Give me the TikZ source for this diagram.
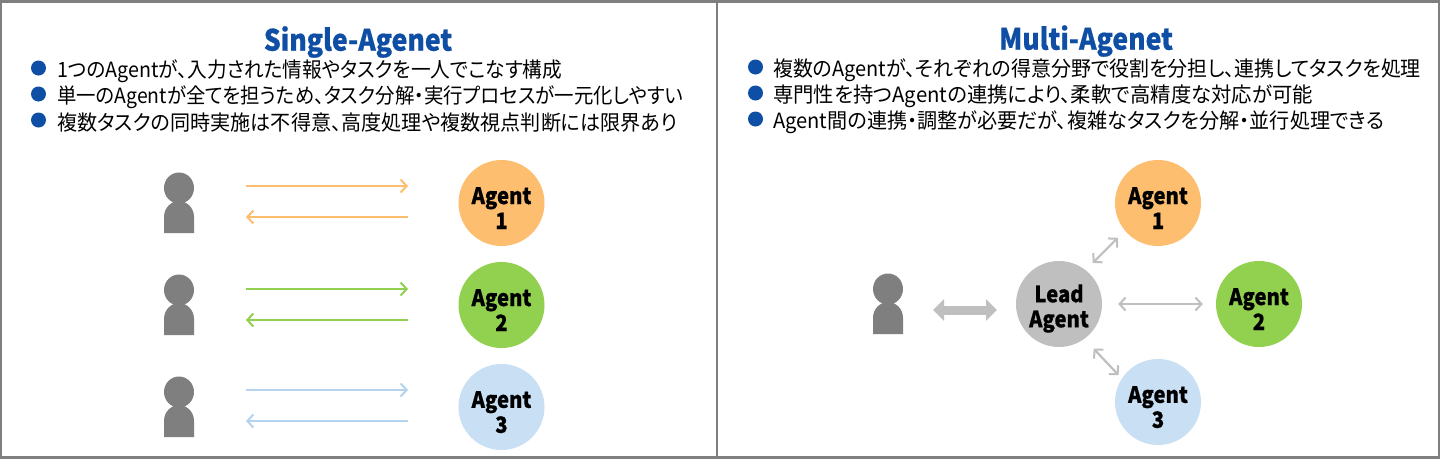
\documentclass[tikz,border=0pt]{standalone}
\usepackage{fontspec}
\setmainfont[RawFeature={+palt}]{Noto Sans CJK JP}
\newfontfamily\agfont[FakeStretch=0.9,FakeBold=0.6]{Noto Sans CJK JP Black}
\definecolor{frameg}{HTML}{7F7F7F}
\definecolor{titleb}{HTML}{0F4EA5}
\definecolor{orng}{HTML}{FDBE6F}
\definecolor{grn}{HTML}{92D04F}
\definecolor{lblue}{HTML}{C9DFF4}
\definecolor{lblueline}{HTML}{B5D3EF}
\definecolor{lead}{HTML}{BFBFBF}
\definecolor{persong}{HTML}{7F7F7F}
\usetikzlibrary{arrows.meta,shapes.geometric}
\tikzset{
  x=1pt,y=-1pt,
  paneltitle/.style={font=\fontsize{29.5}{30}\selectfont\agfont,text=titleb,inner sep=0pt},
  bulletdot/.style={circle,fill=titleb,minimum size=15pt,inner sep=0pt},
  bullettext/.style={anchor=west,font=\fontsize{21}{21}\selectfont,text=black,inner sep=0pt},
  agentnode/.style={circle,minimum size=86pt,inner sep=0pt,align=center,
    font=\fontsize{22.5}{25}\selectfont\agfont,text=black},
  personhead/.style={ellipse,fill=persong,minimum width=30pt,minimum height=31pt,inner sep=0pt},
  flow/.style={line width=2.2pt,-{Straight Barb[length=6pt,width=13pt,line width=2pt]}},
  link/.style={line width=2.2pt,draw=lead,{Straight Barb[length=6pt,width=13pt,line width=2pt]}-{Straight Barb[length=6pt,width=13pt,line width=2pt]}},
}
\newcommand{\personbody}[2]{%
  \fill[persong] (#1-15,#2+61) -- (#1-15,#2+45) .. controls (#1-15,#2+35) and (#1-7,#2+29) .. (#1,#2+29)
    .. controls (#1+7,#2+29) and (#1+15,#2+35) .. (#1+15,#2+45) -- (#1+15,#2+61) -- cycle;}
\newcommand{\agtwo}[2]{\rule{0pt}{27pt}\makebox[0pt]{#1}\\\makebox[0pt]{#2}}
\begin{document}
\begin{tikzpicture}
\useasboundingbox (0,0) rectangle (1440,459);
\fill[white] (0,0) rectangle (1440,459);
\draw[frameg,line width=2.5pt] (1,1.5) rectangle (1439,457.5);
\draw[frameg,line width=1.5pt] (717,1) -- (717,458);

% left panel
\node[paneltitle] (t1) at (358,42) {Single-Agenet};
\node[bulletdot] (b11) at (38.5,68) {};
\node[bulletdot] (b12) at (38.5,94) {};
\node[bulletdot] (b13) at (38.5,120) {};
\node[bullettext] (l11) at (57,71) {\scalebox{.937}[1]{1つのAgentが、入力された情報やタスクを一人でこなす構成}};
\node[bullettext] (l12) at (57,97) {\scalebox{.924}[1]{単一のAgentが全てを担うため、タスク分解・実行プロセスが一元化しやすい}};
\node[bullettext] (l13) at (57,123) {\scalebox{.957}[1]{複数タスクの同時実施は不得意、高度処理や複数視点判断には限界あり}};

\personbody{179}{172}
\node[personhead] (p1) at (179,188) {};
\personbody{179}{274}
\node[personhead] (p2) at (179,290) {};
\personbody{179}{376}
\node[personhead] (p3) at (179,392) {};

\node[agentnode,fill=orng] (a1) at (501.5,203) {\agtwo{Agent}{1}};
\node[agentnode,fill=grn] (a2) at (501.5,305) {\agtwo{Agent}{2}};
\node[agentnode,fill=lblue] (a3) at (501.5,407) {\agtwo{Agent}{3}};

\coordinate (p1a) at (246,186); \coordinate (a1a) at (408,186);
\coordinate (a1b) at (408,217); \coordinate (p1b) at (246,217);
\coordinate (p2a) at (246,289); \coordinate (a2a) at (408,289);
\coordinate (a2b) at (408,320); \coordinate (p2b) at (246,320);
\coordinate (p3a) at (246,390); \coordinate (a3a) at (408,390);
\coordinate (a3b) at (408,421); \coordinate (p3b) at (246,421);
\draw[flow,orng] (p1a) -- (a1a);
\draw[flow,orng] (a1b) -- (p1b);
\draw[flow,grn] (p2a) -- (a2a);
\draw[flow,grn] (a2b) -- (p2b);
\draw[flow,lblueline] (p3a) -- (a3a);
\draw[flow,lblueline] (a3b) -- (p3b);

% right panel
\node[paneltitle] (t2) at (1086,41) {Multi-Agenet};
\node[bulletdot] (b21) at (755.5,67) {};
\node[bulletdot] (b22) at (755.5,93) {};
\node[bulletdot] (b23) at (755.5,119) {};
\node[bullettext] (l21) at (773,70) {\scalebox{.951}[1]{複数のAgentが、それぞれの得意分野で役割を分担し、連携してタスクを処理}};
\node[bullettext] (l22) at (773,96) {\scalebox{.969}[1]{専門性を持つAgentの連携により、柔軟で高精度な対応が可能}};
\node[bullettext] (l23) at (773,122) {\scalebox{.958}[1]{Agent間の連携・調整が必要だが、複雑なタスクを分解・並行処理できる}};

\personbody{888}{273}
\node[personhead] (p4) at (888,289) {};
\node[agentnode,fill=lead] (la) at (1059,304) {\agtwo{Lead}{Agent}};
\node[agentnode,fill=orng] (m1) at (1158,203) {\agtwo{Agent}{1}};
\node[agentnode,fill=grn] (m2) at (1259,304) {\agtwo{Agent}{2}};
\node[agentnode,fill=lblue] (m3) at (1158,402) {\agtwo{Agent}{3}};

\coordinate (fatl) at (933,310); \coordinate (fatr) at (997,310);
\draw[lead,line width=9pt,{Triangle[length=11pt,width=21pt]}-{Triangle[length=11pt,width=21pt]}] (fatl) -- (fatr);
\draw[link,shorten <=10pt,shorten >=10pt] (la.52) -- (m1.220);
\draw[link,shorten <=16pt,shorten >=13pt] (la.east) -- (m2.west);
\draw[link,shorten <=13.5pt,shorten >=4.7pt] (la.-54) -- (m3.147);
\end{tikzpicture}
\end{document}
